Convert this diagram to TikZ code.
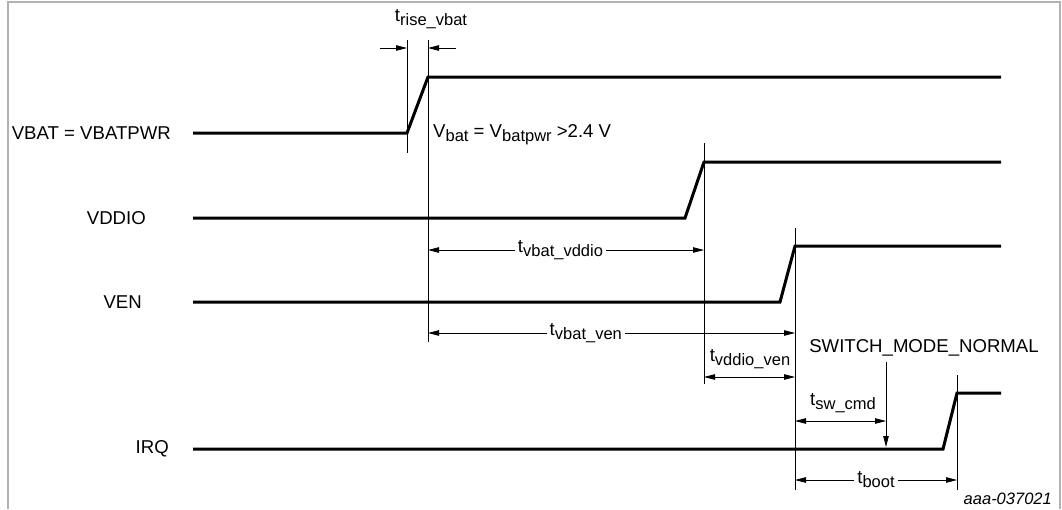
\documentclass[tikz,border=0pt]{standalone}
\usepackage{fontspec}
\setmainfont{Liberation Sans}
\usetikzlibrary{arrows.meta}
\newcommand{\mysub}[1]{\raisebox{-0.4ex}{\fontsize{16.5}{16.5}\selectfont #1}}
\begin{document}
\begin{tikzpicture}[x=1pt,y=-1pt,
  sig/.style={line width=3pt,line join=miter},
  guide/.style={line width=1pt},
  dim/.style={line width=0.8pt,{Triangle[length=11pt,width=5.5pt]}-{Triangle[length=11pt,width=5.5pt]}},
  onearr/.style={line width=0.8pt,-{Triangle[length=11pt,width=5.5pt]}},
  lbl/.style={font=\fontsize{18.6}{20}\selectfont,inner sep=1pt},
  dimlbl/.style={lbl,fill=white,inner sep=3pt}]
\useasboundingbox (0,0) rectangle (1062,509);
\draw[line width=2pt,gray!60] (8,509) -- (8,2) -- (1060,2) -- (1060,509);
% signal labels
\node[lbl,anchor=east] (lvbat) at (172,133) {VBAT = VBATPWR};
\node[lbl,anchor=east] (lvddio) at (147,218) {VDDIO};
\node[lbl,anchor=east] (lven) at (143,302) {VEN};
\node[lbl,anchor=east] (lirq) at (170,449) {IRQ};
% key coordinates
\coordinate (a0) at (193,133); \coordinate (a1) at (407,133); \coordinate (a2) at (428,77); \coordinate (a3) at (1001,77);
\coordinate (b0) at (193,218); \coordinate (b1) at (685,218); \coordinate (b2) at (704,162); \coordinate (b3) at (1001,162);
\coordinate (c0) at (193,302); \coordinate (c1) at (780,302); \coordinate (c2) at (795,246); \coordinate (c3) at (1001,246);
\coordinate (d0) at (193,449); \coordinate (d1) at (943,449); \coordinate (d2) at (957,393); \coordinate (d3) at (1001,393);
% signals
\draw[sig] (a0) -- (a1) -- (a2) -- (a3);
\draw[sig] (b0) -- (b1) -- (b2) -- (b3);
\draw[sig] (c0) -- (c1) -- (c2) -- (c3);
\draw[sig] (d0) -- (d1) -- (d2) -- (d3);
% guide lines
\coordinate (g1t) at (407,40); \coordinate (g1b) at (407,153);
\coordinate (g2t) at (428,40); \coordinate (g2b) at (428,342);
\coordinate (g3t) at (704,143); \coordinate (g3b) at (704,384);
\coordinate (g4t) at (795,228); \coordinate (g4b) at (795,490);
\coordinate (g5t) at (957,375); \coordinate (g5b) at (957,490);
\draw[guide] (g1t) -- (g1b);
\draw[guide] (g2t) -- (g2b);
\draw[guide] (g3t) -- (g3b);
\draw[guide] (g4t) -- (g4b);
\draw[guide] (g5t) -- (g5b);
% t_rise_vbat
\coordinate (r1) at (380,48); \coordinate (r1e) at (407,48);
\coordinate (r2) at (456,48); \coordinate (r2e) at (428,48);
\draw[onearr] (r1) -- (r1e);
\draw[onearr] (r2) -- (r2e);
\node[lbl] (trise) at (431,19) {t\mysub{rise\_vbat}};
\node[lbl,anchor=west] (vbatlbl) at (432,135) {V\mysub{bat} = V\mysub{batpwr} >2.4 V};
% dimensions
\draw[dim] (428,250) -- node[dimlbl,pos=0.48] (tvv) {t\mysub{vbat\_vddio}} (704,250);
\draw[dim] (428,333) -- node[dimlbl,pos=0.43] (tve) {t\mysub{vbat\_ven}} (795,333);
\draw[dim] (704,377) -- (795,377);
\node[lbl] (tdv) at (750,359) {t\mysub{vddio\_ven}};
\draw[dim] (795,421) -- (886,421);
\node[lbl] (tsw) at (843,403) {t\mysub{sw\_cmd}};
\draw[dim] (795,480) -- node[dimlbl] (tboot) {t\mysub{boot}} (957,480);
% switch mode normal
\node[lbl] (swm) at (924,348) {SWITCH\_MODE\_NORMAL};
\coordinate (swa) at (886,362); \coordinate (swb) at (886,447);
\draw[onearr] (swa) -- (swb);
\node[lbl,anchor=east,font=\itshape\fontsize{16.5}{18}\selectfont] (ref) at (1053,499) {aaa-037021};
\end{tikzpicture}
\end{document}
